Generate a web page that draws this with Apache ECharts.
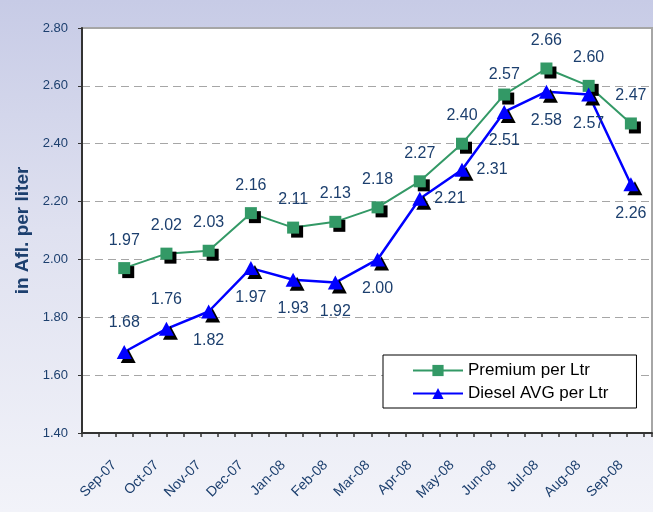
<!DOCTYPE html>
<html>
<head>
<meta charset="utf-8">
<script src="https://cdn.jsdelivr.net/npm/echarts@6/dist/echarts.min.js"></script>
<style>
  html, body { margin: 0; padding: 0; }
  #chart {
    width: 653px; height: 512px;
    background: linear-gradient(to bottom, #c7cbe6 0%, #dfe1f0 45%, #f2f3f9 100%);
  }
</style>
</head>
<body>
<div id="chart"></div>
<script>
// month labels
var months = ['Sep-07', 'Oct-07', 'Nov-07', 'Dec-07', 'Jan-08', 'Feb-08', 'Mar-08',
              'Apr-08', 'May-08', 'Jun-08', 'Jul-08', 'Aug-08', 'Sep-08'];
// prices in Afl. per liter
var premium = [1.97, 2.02, 2.03, 2.16, 2.11, 2.13, 2.18, 2.27, 2.40, 2.57, 2.66, 2.60, 2.47];
var diesel  = [1.68, 1.76, 1.82, 1.97, 1.93, 1.92, 2.00, 2.21, 2.31, 2.51, 2.58, 2.57, 2.26];
// where each diesel label sits
var dieselLabelPos = ['top', 'top', 'bottom', 'bottom', 'bottom', 'bottom', 'bottom',
                      'right', 'right', 'bottom', 'bottom', 'bottom', 'bottom'];

var textColor = '#1c3f6e';
var chart = echarts.init(document.getElementById('chart'));

var premiumData = premium.map(function (v, i) {
    // Jun-08 label sits a little lower in the original
    if (i === 9) return { value: [i, v], label: { distance: 6 } };
    return [i, v];
});
var dieselData = diesel.map(function (v, i) {
    var pos = dieselLabelPos[i];
    return { value: [i, v], label: { position: pos, distance: pos === 'right' ? 7 : 14 } };
});

var option = {
    backgroundColor: 'transparent',
    animation: false,
    textStyle: { fontFamily: 'Liberation Sans, Arial, sans-serif' },
    grid: {
        left: 82, right: 1, top: 28, bottom: 79,
        show: true,
        backgroundColor: '#ffffff',
        borderColor: '#a6a6a6',
        borderWidth: 2
    },
    legend: {
        orient: 'vertical',
        left: 383, top: 355,
        padding: [7, 28, 6, 29],
        itemGap: 6,
        itemWidth: 50, itemHeight: 14,
        backgroundColor: '#ffffff',
        borderColor: '#000000',
        borderWidth: 1,
        borderRadius: 0,
        textStyle: { color: '#000000', fontSize: 17, fontFamily: 'Liberation Sans, Arial, sans-serif' },
        data: ['Premium per Ltr', 'Diesel AVG per Ltr']
    },
    xAxis: [{
        type: 'value',
        min: -1, max: 12.5, interval: 1,
        splitLine: { show: false },
        axisLine: { onZero: false, lineStyle: { color: '#333333', width: 2 } },
        axisTick: { show: false },
        axisLabel: {
            rotate: 45,
            margin: 20,
            padding: [0, 14, 0, 0],
            color: textColor,
            fontSize: 14,
            showMaxLabel: false,
            formatter: function (v) { return months[v] || ''; }
        }
    }, {
        // fine tick marks along the bottom
        type: 'value',
        position: 'bottom',
        min: 0, max: 33.5, interval: 1,
        splitLine: { show: false },
        axisLine: { show: false },
        axisLabel: { show: false },
        axisTick: { show: true, length: 4, lineStyle: { color: '#333333', width: 1.5 } }
    }],
    yAxis: {
        type: 'value',
        min: 1.4, max: 2.8, interval: 0.2,
        name: 'in Afl. per liter',
        nameLocation: 'middle',
        nameGap: 48,
        nameTextStyle: { color: textColor, fontSize: 19, fontWeight: 'bold' },
        axisLine: { show: true, onZero: false, lineStyle: { color: '#333333', width: 2 } },
        axisTick: { show: true, length: 4, lineStyle: { color: '#333333' } },
        axisLabel: {
            margin: 14,
            color: textColor,
            fontSize: 13,
            formatter: function (v) { return v.toFixed(2); }
        },
        splitLine: {
            show: true,
            lineStyle: { color: '#a6a6a6', type: [8, 5], width: 1 }
        }
    },
    series: [{
        name: 'Premium per Ltr',
        type: 'line',
        data: premiumData,
        symbol: 'rect',
        symbolSize: 12,
        lineStyle: { color: '#339966', width: 2 },
        itemStyle: {
            color: '#339966',
            shadowColor: '#000000',
            shadowBlur: 0,
            shadowOffsetX: 4,
            shadowOffsetY: 4
        },
        label: {
            show: true,
            position: 'top',
            distance: 14,
            color: textColor,
            fontSize: 16,
            formatter: function (p) { return p.value[1].toFixed(2); }
        }
    }, {
        name: 'Diesel AVG per Ltr',
        type: 'line',
        data: dieselData,
        symbol: 'triangle',
        symbolSize: [15, 14],
        lineStyle: { color: '#0000ff', width: 2.5 },
        itemStyle: {
            color: '#0000ff',
            shadowColor: '#000000',
            shadowBlur: 0,
            shadowOffsetX: 4,
            shadowOffsetY: 4
        },
        label: {
            show: true,
            position: 'bottom',
            distance: 14,
            color: textColor,
            fontSize: 16,
            formatter: function (p) { return p.value[1].toFixed(2); }
        }
    }]
};

chart.setOption(option);
</script>
</body>
</html>
